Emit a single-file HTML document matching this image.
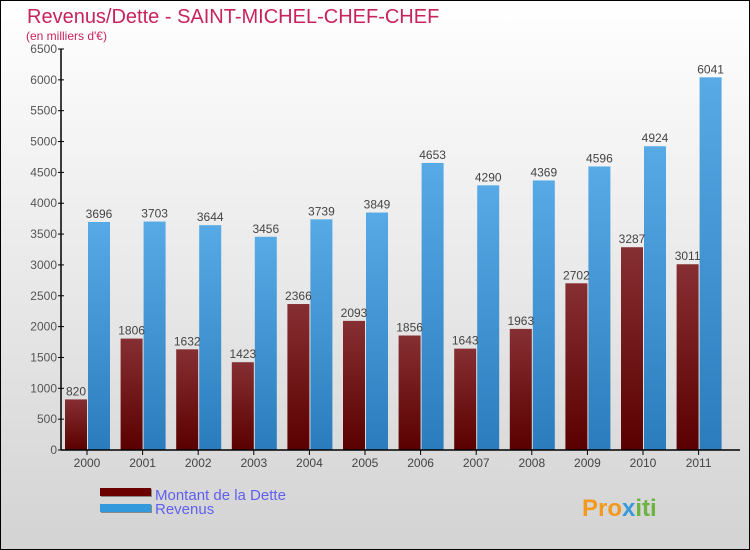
<!DOCTYPE html>
<html><head><meta charset="utf-8"><style>
body{margin:0}
svg{display:block;font-family:"Liberation Sans",sans-serif}
</style></head><body>
<svg width="750" height="550">
<defs>
<linearGradient id="bg" x1="0" y1="0" x2="0" y2="1"><stop offset="0" stop-color="#ffffff"/><stop offset="1" stop-color="#d3d3d3"/></linearGradient>
<linearGradient id="gd" x1="0" y1="0" x2="0" y2="1"><stop offset="0" stop-color="#862f32"/><stop offset="1" stop-color="#5a0000"/></linearGradient>
<linearGradient id="gr" x1="0" y1="0" x2="0" y2="1"><stop offset="0" stop-color="#58aae6"/><stop offset="1" stop-color="#2a7cbc"/></linearGradient>
</defs>
<rect x="0.5" y="0.5" width="749" height="549" fill="url(#bg)" stroke="#000"/>
<text x="27" y="23" font-size="20" fill="#c8245a">Revenus/Dette - SAINT-MICHEL-CHEF-CHEF</text>
<text x="26" y="40" font-size="12" fill="#c8245a">(en milliers d'€)</text>
<g id="yaxis"></g><g id="bars"></g><g id="xaxis"></g>
<g>
<rect x="101" y="489" width="51" height="8" fill="#888"/>
<rect x="100" y="488" width="51" height="8" fill="#6a0000"/>
<text x="155" y="500" font-size="15" fill="#6060f0">Montant de la Dette</text>
<rect x="101" y="505" width="51" height="8" fill="#888"/>
<rect x="100" y="504" width="51" height="8" fill="#3399dd"/>
<text x="155" y="514" font-size="15" fill="#6060f0">Revenus</text>
</g>
<text x="582" y="516" font-size="24" font-weight="bold" fill="#f39a1e">Pro<tspan fill="#3a9ad9">x</tspan><tspan fill="#6cb33f">iti</tspan></text>
</svg>
<script>
const years=["2000","2001","2002","2003","2004","2005","2006","2007","2008","2009","2010","2011"];
const dette=[820,1806,1632,1423,2366,2093,1856,1643,1963,2702,3287,3011];
const revenus=[3696,3703,3644,3456,3739,3849,4653,4290,4369,4596,4924,6041];
const yTicks=[0,500,1000,1500,2000,2500,3000,3500,4000,4500,5000,5500,6000,6500];
const NS="http://www.w3.org/2000/svg";
const y0=450,yMax=6500,plotH=401,x0=87,step=55.6,bw=22;
const ys=v=>y0-v/yMax*plotH;
const xs=i=>x0+i*step;
function mk(t,a,p){const e=document.createElementNS(NS,t);for(const k in a)e.setAttribute(k,a[k]);p.appendChild(e);return e;}
const ya=document.getElementById('yaxis'),ba=document.getElementById('bars'),xa=document.getElementById('xaxis');
let l=mk('line',{x1:61,y1:ys(6500),x2:61,y2:y0,stroke:'#000','stroke-width':1.5},ya);


yTicks.forEach(v=>{
 const t=mk('line',{x1:58,x2:64,y1:ys(v),y2:ys(v),stroke:'#000'},ya);
 
 
 const tx=mk('text',{x:57,y:ys(v)+4,'font-size':12,fill:'#555','text-anchor':'end'},ya);
 tx.textContent=v;
 
 
});
years.forEach((yr,i)=>{
 const c=xs(i);
 const bd=mk('rect',{x:c-bw,y:ys(dette[i]),width:bw,height:y0-ys(dette[i]),fill:'url(#gd)'},ba);
 
 
 const br=mk('rect',{x:c+1,y:ys(revenus[i]),width:bw,height:y0-ys(revenus[i]),fill:'url(#gr)'},ba);
 
 
 const ld=mk('text',{x:c-bw/2,y:ys(dette[i])-4,'font-size':12,fill:'#444','text-anchor':'middle'},ba);
 ld.textContent=dette[i];
 
 
 const lr=mk('text',{x:c+1+bw/2,y:ys(revenus[i])-4,'font-size':12,fill:'#444','text-anchor':'middle'},ba);
 lr.textContent=revenus[i];
 
 
 const tk=mk('line',{x1:c,x2:c,y1:y0,y2:y0+5,stroke:'#000'},xa);
 
 
 const xl=mk('text',{x:c,y:y0+17,'font-size':12,fill:'#444','text-anchor':'middle'},xa);
 xl.textContent=yr;
 
 
});
const xl=mk('line',{x1:61,x2:740,y1:y0,y2:y0,stroke:'#000','stroke-width':1.5},xa);


</script>
</body></html>
